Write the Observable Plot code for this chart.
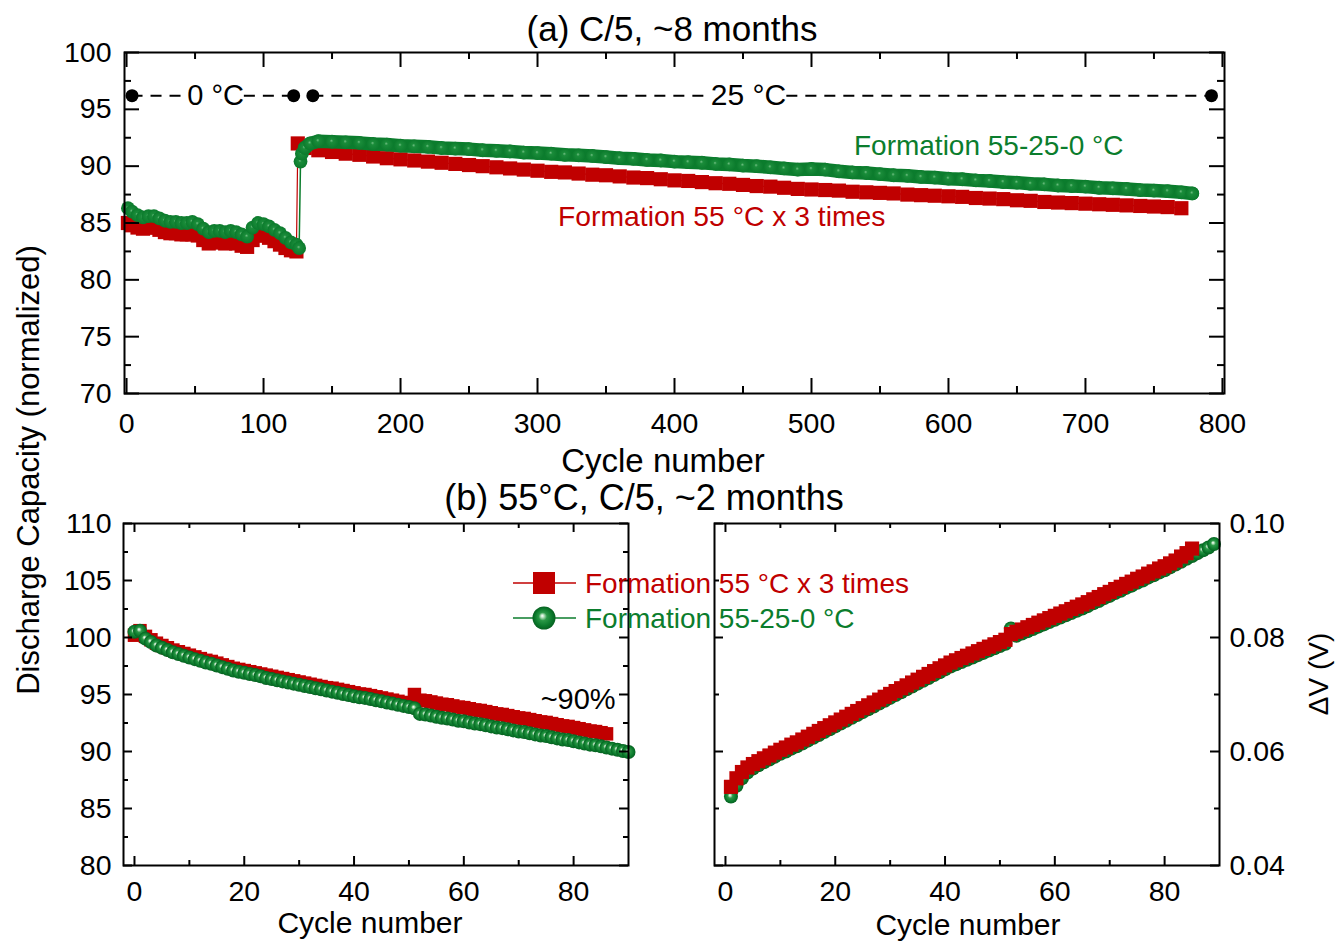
<!DOCTYPE html>
<html><head><meta charset="utf-8">
<script src="https://cdn.jsdelivr.net/npm/d3@7"></script>
<script src="https://cdn.jsdelivr.net/npm/@observablehq/plot@0.6"></script>
<style>
html,body{margin:0;padding:0;background:#fff;}
#chart{position:relative;width:1336px;height:941px;overflow:hidden;background:#fff;}
#chart .layer{position:absolute;left:0;top:0;width:1336px;height:941px;}
</style></head><body>
<div id="chart"></div>
<svg width="0" height="0" style="position:absolute">
  <defs>
    <radialGradient id="gball" cx="0.5" cy="0.5" r="0.5" fx="0.42" fy="0.4">
      <stop offset="0" stop-color="#ffffff"/>
      <stop offset="0.12" stop-color="#c4e8ca"/>
      <stop offset="0.36" stop-color="#2a9846"/>
      <stop offset="0.75" stop-color="#0b7a2c"/>
      <stop offset="1" stop-color="#066020"/>
    </radialGradient>
    <radialGradient id="gsoft" cx="0.5" cy="0.5" r="0.5" fx="0.45" fy="0.42">
      <stop offset="0" stop-color="#6fbf82"/>
      <stop offset="0.25" stop-color="#1a8c3a"/>
      <stop offset="1" stop-color="#0b7a2c"/>
    </radialGradient>
  </defs>
</svg>
<script>
// ---------------- DATA ----------------
// (a) C/5, ~8 months — 0 °C segment
const topRedCyc0 = [1,4,8,12,16,20,24,28,32,36,40,44,48,52,56,60,64,68,72,76,80,84,88,92,96,100,104,108,112,116,120,124];
const topRed0    = [85.0,84.8,84.6,84.5,84.6,84.6,84.4,84.2,84.1,84.1,84.0,84.0,84.0,83.9,83.5,83.2,83.3,83.3,83.2,83.3,83.2,83.0,82.9,83.5,83.9,83.9,83.7,83.4,83.1,82.8,82.6,82.5];
const topGreenCyc0 = [1,4,8,12,16,20,24,28,32,36,40,44,48,52,56,60,64,68,72,76,80,84,88,92,96,100,104,108,112,116,120,124,126];
const topGreen0    = [86.3,86.0,85.7,85.5,85.6,85.6,85.4,85.2,85.1,85.1,85.0,85.0,85.1,84.9,84.5,84.2,84.3,84.3,84.2,84.3,84.2,84.0,83.8,84.6,85.0,84.9,84.7,84.4,84.1,83.7,83.3,83.1,82.8];
// 25 °C segment
const topRedCyc25 = [125,130,140,150,160,170,180,190,200,210,220,230,240,250,260,270,280,290,300,310,320,330,340,350,360,370,380,390,400,410,420,430,440,450,460,470,480,490,500,510,520,530,540,550,560,570,580,590,600,610,620,630,640,650,660,670,680,690,700,710,720,730,740,750,760,770];
const topRed25    = [92.0,91.6,91.4,91.25,91.1,91.0,90.85,90.7,90.6,90.5,90.4,90.3,90.2,90.1,90.0,89.9,89.8,89.7,89.6,89.5,89.45,89.35,89.25,89.2,89.1,89.0,88.95,88.85,88.75,88.7,88.6,88.5,88.45,88.35,88.25,88.2,88.1,88.0,87.95,87.9,87.85,87.75,87.7,87.65,87.6,87.5,87.45,87.4,87.35,87.3,87.2,87.15,87.1,87.0,86.95,86.85,86.8,86.75,86.7,86.65,86.6,86.55,86.5,86.45,86.4,86.3];
const topGreenCyc25 = [127,128,130,134,140,150,160,170,180,190,200,210,220,230,240,250,260,270,280,290,300,310,320,330,340,350,360,370,380,390,400,410,420,430,440,450,460,470,480,490,500,510,520,530,540,550,560,570,580,590,600,610,620,630,640,650,660,670,680,690,700,710,720,730,740,750,760,770,778];
const topGreen25    = [90.4,91.1,91.6,92.0,92.2,92.15,92.1,92.05,91.95,91.9,91.8,91.75,91.7,91.6,91.55,91.5,91.4,91.35,91.3,91.2,91.15,91.1,91.0,90.95,90.9,90.8,90.7,90.65,90.55,90.5,90.4,90.35,90.3,90.2,90.15,90.05,90.0,89.9,89.8,89.7,89.75,89.7,89.55,89.45,89.4,89.3,89.2,89.15,89.05,89.0,88.9,88.85,88.75,88.7,88.6,88.55,88.45,88.4,88.3,88.25,88.2,88.1,88.05,88.0,87.9,87.85,87.8,87.7,87.6];
// temperature annotation: black markers (cycle numbers), dashed segments, level on the y axis
const tempMarkers = [4,122,136,792];
const tempSegStart = [4,86,136,482];
const tempSegEnd = [44,122,425,792];
const tempLevel = 96.2;

// (b) 55°C, C/5, ~2 months — capacity (left)
const capRedCyc = [0,1,2,3,4,5,6,7,8,9,10,11,12,13,14,15,16,17,18,19,20,21,22,23,24,25,26,27,28,29,30,31,32,33,34,35,36,37,38,39,40,41,42,43,44,45,46,47,48,49,50,51,52,53,54,55,56,57,58,59,60,61,62,63,64,65,66,67,68,69,70,71,72,73,74,75,76,77,78,79,80,81,82,83,84,85,86];
const capRed = [100.2,100.6,100.1,99.8,99.5,99.3,99.1,98.9,98.75,98.6,98.45,98.3,98.15,98.0,97.9,97.75,97.6,97.45,97.3,97.2,97.1,97.0,96.9,96.8,96.7,96.6,96.5,96.4,96.3,96.2,96.1,96.0,95.9,95.8,95.7,95.6,95.55,95.45,95.35,95.25,95.15,95.05,95.0,94.9,94.8,94.7,94.6,94.5,94.4,94.3,94.2,95.0,94.5,94.45,94.35,94.25,94.15,94.1,94.0,93.9,93.85,93.75,93.65,93.6,93.5,93.4,93.3,93.25,93.15,93.05,92.95,92.9,92.8,92.7,92.6,92.55,92.45,92.35,92.25,92.2,92.1,92.0,91.9,91.8,91.75,91.65,91.55];
const capGreenCyc = [0,1,2,3,4,5,6,7,8,9,10,11,12,13,14,15,16,17,18,19,20,21,22,23,24,25,26,27,28,29,30,31,32,33,34,35,36,37,38,39,40,41,42,43,44,45,46,47,48,49,50,51,52,53,54,55,56,57,58,59,60,61,62,63,64,65,66,67,68,69,70,71,72,73,74,75,76,77,78,79,80,81,82,83,84,85,86,87,88,89,90];
const capGreen = [100.5,100.6,99.9,99.6,99.3,99.1,98.9,98.7,98.55,98.4,98.25,98.1,97.95,97.8,97.7,97.55,97.4,97.25,97.1,97.0,96.9,96.8,96.7,96.6,96.45,96.35,96.25,96.15,96.05,95.95,95.85,95.75,95.65,95.55,95.45,95.35,95.25,95.15,95.05,94.95,94.85,94.75,94.7,94.6,94.5,94.4,94.3,94.2,94.1,94.0,93.9,93.8,93.3,93.25,93.15,93.05,92.95,92.9,92.8,92.7,92.65,92.55,92.45,92.4,92.3,92.2,92.1,92.05,91.95,91.85,91.75,91.7,91.6,91.5,91.4,91.35,91.25,91.15,91.05,91.0,90.9,90.8,90.7,90.6,90.55,90.45,90.35,90.25,90.15,90.05,89.95];

// (b) ΔV (right)
const dvRedCyc = [1,2,3,4,5,6,7,8,9,10,11,12,13,14,15,16,17,18,19,20,21,22,23,24,25,26,27,28,29,30,31,32,33,34,35,36,37,38,39,40,41,42,43,44,45,46,47,48,49,50,51,52,53,54,55,56,57,58,59,60,61,62,63,64,65,66,67,68,69,70,71,72,73,74,75,76,77,78,79,80,81,82,83,84,85];
const dvRed = [0.0538,0.0553,0.0564,0.0572,0.0578,0.0583,0.0588,0.0593,0.0598,0.0603,0.0607,0.0612,0.0616,0.0621,0.0626,0.0631,0.0636,0.0641,0.0646,0.0651,0.0656,0.0661,0.0666,0.0671,0.0676,0.0681,0.0686,0.0691,0.0696,0.0701,0.0706,0.0711,0.0716,0.0721,0.0726,0.0731,0.0736,0.0741,0.0746,0.0751,0.0756,0.0760,0.0764,0.0768,0.0772,0.0776,0.0780,0.0784,0.0788,0.0792,0.0796,0.0806,0.0810,0.0814,0.0818,0.0822,0.0826,0.0830,0.0834,0.0838,0.0842,0.0846,0.0850,0.0854,0.0858,0.0862,0.0867,0.0871,0.0876,0.0880,0.0885,0.0889,0.0894,0.0898,0.0903,0.0907,0.0912,0.0916,0.0921,0.0925,0.0930,0.0935,0.0942,0.0948,0.0956];
const dvGreenCyc = [1,2,3,4,5,6,7,8,9,10,11,12,13,14,15,16,17,18,19,20,21,22,23,24,25,26,27,28,29,30,31,32,33,34,35,36,37,38,39,40,41,42,43,44,45,46,47,48,49,50,51,52,53,54,55,56,57,58,59,60,61,62,63,64,65,66,67,68,69,70,71,72,73,74,75,76,77,78,79,80,81,82,83,84,85,86,87,88,89];
const dvGreen = [0.0521,0.0540,0.0553,0.0563,0.0570,0.0576,0.0581,0.0586,0.0591,0.0596,0.0600,0.0605,0.0609,0.0614,0.0619,0.0624,0.0629,0.0634,0.0639,0.0644,0.0649,0.0654,0.0659,0.0664,0.0669,0.0674,0.0679,0.0684,0.0689,0.0694,0.0699,0.0704,0.0709,0.0714,0.0719,0.0724,0.0729,0.0734,0.0739,0.0744,0.0749,0.0753,0.0757,0.0761,0.0765,0.0769,0.0773,0.0777,0.0781,0.0785,0.0789,0.0816,0.0803,0.0807,0.0811,0.0815,0.0819,0.0823,0.0827,0.0831,0.0835,0.0839,0.0843,0.0847,0.0851,0.0855,0.0860,0.0864,0.0869,0.0873,0.0878,0.0882,0.0887,0.0891,0.0896,0.0900,0.0905,0.0909,0.0914,0.0918,0.0923,0.0928,0.0933,0.0938,0.0943,0.0948,0.0953,0.0958,0.0964];

// tick values
const topXMajor = [0,100,200,300,400,500,600,700,800];
const topXMinor = [50,150,250,350,450,550,650,750];
const topYMajor = [70,75,80,85,90,95,100];
const topYMinor = [72.5,77.5,82.5,87.5,92.5,97.5];
const botXMajor = [0,20,40,60,80];
const botXMinor = [10,30,50,70];
const capYMajor = [80,85,90,95,100,105,110];
const capYMinor = [82.5,87.5,92.5,97.5,102.5,107.5];
const dvYMajor = [0.04,0.06,0.08,0.10];
const dvYMinor = [0.05,0.07,0.09];

const seriesNames = ["Formation 55 °C x 3 times", "Formation 55-25-0 °C"];

// ---------------- DRAWING ----------------
const W = 1336, H = 941;
const FONT = '"Liberation Sans", Arial, Helvetica, sans-serif';
const RED = "#c00000", GREEN = "#0b7d2d";
const zip = (xs, ys) => xs.slice(0, Math.min(xs.length, ys.length)).map((x, i) => ({x, y: ys[i]}));

function tickMarks(t, fw, fh, maj, min) {
  const o = {stroke: "black", strokeWidth: 2};
  return [
    Plot.ruleX(t.xMaj, {x: d => d, insetTop: fh - maj, ...o}),
    Plot.ruleX(t.xMaj, {x: d => d, insetBottom: fh - maj, ...o}),
    Plot.ruleX(t.xMin, {x: d => d, insetTop: fh - min, ...o}),
    Plot.ruleX(t.xMin, {x: d => d, insetBottom: fh - min, ...o}),
    Plot.ruleY(t.yMaj, {y: d => d, insetRight: fw - maj, ...o}),
    Plot.ruleY(t.yMaj, {y: d => d, insetLeft: fw - maj, ...o}),
    Plot.ruleY(t.yMin, {y: d => d, insetRight: fw - min, ...o}),
    Plot.ruleY(t.yMin, {y: d => d, insetLeft: fw - min, ...o})
  ];
}
const baseStyle = {background: "transparent", fontFamily: FONT, overflow: "visible"};
const TICKFS = 28.5;

// ---- top panel ----
const tRed = [...zip(topRedCyc0, topRed0), ...zip(topRedCyc25, topRed25)];
const tGreen0 = zip(topGreenCyc0, topGreen0);
const tGreen25 = zip(topGreenCyc25, topGreen25);
const tGreen = [...tGreen0, ...tGreen25];
const tempSegs = tempSegStart.map((s, i) => ({x1: s, x2: tempSegEnd[i]}));

const topPlot = Plot.plot({
  width: W, height: H,
  marginLeft: 124, marginRight: W - 1224, marginTop: 52, marginBottom: H - 393,
  x: {domain: [-1.5, 801.5]},
  y: {domain: [70, 100]},
  style: baseStyle,
  marks: [
    Plot.ruleY(tempSegs, {x1: "x1", x2: "x2", y: () => tempLevel, stroke: "black", strokeWidth: 2, strokeDasharray: "11,8"}),
    Plot.text(["0 °C"], {x: () => 65, y: () => tempLevel, text: d => d, fontSize: 29, fill: "black", fontFamily: FONT}),
    Plot.text(["25 °C"], {x: () => 454, y: () => tempLevel, text: d => d, fontSize: 30, fill: "black", fontFamily: FONT}),
    Plot.dot(tempMarkers, {x: d => d, y: () => tempLevel, r: 6.5, fill: "black"}),
    Plot.line(tRed, {x: "x", y: "y", stroke: RED, strokeWidth: 1.2}),
    Plot.dot(tRed, {x: "x", y: "y", symbol: "square", r: 8, fill: RED}),
    Plot.line(tGreen, {x: "x", y: "y", stroke: GREEN, strokeWidth: 1.5}),
    Plot.line(tGreen25.filter(d => d.x >= 130), {x: "x", y: "y", stroke: GREEN, strokeWidth: 13.5, strokeLinecap: "round"}),
    Plot.dot(tGreen, {x: "x", y: "y", r: 6.9, fill: "url(#gsoft)"}),
    Plot.text([seriesNames[1]], {x: () => 531, y: () => 91.8, text: d => d, textAnchor: "start", fontSize: 28, fill: GREEN, fontFamily: FONT}),
    Plot.text([seriesNames[0]], {x: () => 315, y: () => 85.55, text: d => d, textAnchor: "start", fontSize: 28.3, fill: RED, fontFamily: FONT}),
    ...tickMarks({xMaj: topXMajor, xMin: topXMinor, yMaj: topYMajor, yMin: topYMinor}, 1100, 341, 15, 7),
    Plot.frame({stroke: "black", strokeWidth: 2}),
    Plot.axisX(topXMajor, {anchor: "bottom", tickSize: 0, tickPadding: 19, fontSize: TICKFS, label: null, tickFormat: d => String(d)}),
    Plot.axisY(topYMajor, {anchor: "left", tickSize: 0, tickPadding: 13, fontSize: TICKFS, label: null, tickFormat: d => String(d)})
  ]
});

// ---- bottom-left (capacity) ----
const cRed = zip(capRedCyc, capRed), cGreen = zip(capGreenCyc, capGreen);
const capPlot = Plot.plot({
  width: W, height: H,
  marginLeft: 123, marginRight: W - 628, marginTop: 523, marginBottom: H - 865,
  x: {domain: [-2, 90]},
  y: {domain: [80, 110]},
  style: baseStyle,
  marks: [
    Plot.line(cRed, {x: "x", y: "y", stroke: RED, strokeWidth: 1}),
    Plot.dot(cRed, {x: "x", y: "y", symbol: "square", r: 7.6, fill: RED}),
    Plot.line(cGreen, {x: "x", y: "y", stroke: GREEN, strokeWidth: 1}),
    Plot.dot(cGreen, {x: "x", y: "y", r: 7, fill: "url(#gball)"}),
    Plot.text(["~90%"], {x: () => 74, y: () => 94.5, text: d => d, textAnchor: "start", fontSize: 29, fill: "black", fontFamily: FONT}),
    ...tickMarks({xMaj: botXMajor, xMin: botXMinor, yMaj: capYMajor, yMin: capYMinor}, 505, 342, 9, 5),
    Plot.frame({stroke: "black", strokeWidth: 2}),
    Plot.axisX(botXMajor, {anchor: "bottom", tickSize: 0, tickPadding: 15, fontSize: TICKFS, label: null, tickFormat: d => String(d)}),
    Plot.axisY(capYMajor, {anchor: "left", tickSize: 0, tickPadding: 12, fontSize: TICKFS, label: null, tickFormat: d => String(d)})
  ]
});

// ---- bottom-right (ΔV) ----
const vRed = zip(dvRedCyc, dvRed), vGreen = zip(dvGreenCyc, dvGreen);
const dvPlot = Plot.plot({
  width: W, height: H,
  marginLeft: 714, marginRight: W - 1219, marginTop: 523, marginBottom: H - 865,
  x: {domain: [-2, 90]},
  y: {domain: [0.04, 0.10]},
  style: baseStyle,
  marks: [
    Plot.line(vGreen, {x: "x", y: "y", stroke: GREEN, strokeWidth: 1}),
    Plot.dot(vGreen, {x: "x", y: "y", r: 7, fill: "url(#gball)"}),
    Plot.line(vRed, {x: "x", y: "y", stroke: RED, strokeWidth: 1}),
    Plot.dot(vRed, {x: "x", y: "y", symbol: "square", r: 8, fill: RED}),
    ...tickMarks({xMaj: botXMajor, xMin: botXMinor, yMaj: dvYMajor, yMin: dvYMinor}, 505, 342, 9, 5),
    Plot.frame({stroke: "black", strokeWidth: 2}),
    Plot.axisX(botXMajor, {anchor: "bottom", tickSize: 0, tickPadding: 15, fontSize: TICKFS, label: null, tickFormat: d => String(d)}),
    Plot.axisY(dvYMajor, {anchor: "right", tickSize: 0, tickPadding: 10, fontSize: TICKFS, label: null, tickFormat: d3.format(".2f")})
  ]
});

const chart = document.getElementById("chart");
for (const p of [topPlot, capPlot, dvPlot]) {
  const d = document.createElement("div");
  d.className = "layer";
  d.appendChild(p);
  chart.appendChild(d);
}

// ---- overlay: titles, axis titles, legend ----
const ov = d3.create("svg").attr("width", W).attr("height", H).attr("class", "layer")
  .style("font-family", FONT).style("overflow", "visible");
const txt = (s, x, y, size, opts = {}) => {
  const t = ov.append("text").attr("x", x).attr("y", y).attr("font-size", size)
    .attr("text-anchor", opts.anchor || "middle").attr("dominant-baseline", "central")
    .attr("fill", opts.fill || "black").text(s);
  if (opts.rotate) t.attr("transform", `rotate(${opts.rotate},${x},${y})`);
  return t;
};
txt("(a) C/5, ~8 months", 672, 28, 35);
txt("Cycle number", 663, 460, 33);
txt("(b) 55°C, C/5, ~2 months", 644, 497, 36);
txt("Cycle number", 370, 922, 30);
txt("Cycle number", 968, 924, 30);
txt("Discharge Capacity (normalized)", 28, 470, 31, {rotate: -90});
txt("ΔV (V)", 1318, 674, 28, {rotate: -90});

// legend
ov.append("line").attr("x1", 513).attr("x2", 576).attr("y1", 583).attr("y2", 583).attr("stroke", RED).attr("stroke-width", 1.5);
ov.append("rect").attr("x", 533).attr("y", 572).attr("width", 22).attr("height", 22).attr("fill", RED);
ov.append("line").attr("x1", 513).attr("x2", 576).attr("y1", 618).attr("y2", 618).attr("stroke", GREEN).attr("stroke-width", 1.5);
ov.append("circle").attr("cx", 544).attr("cy", 618).attr("r", 11.5).attr("fill", "url(#gball)");
txt(seriesNames[0], 585, 583, 28, {anchor: "start", fill: RED});
txt(seriesNames[1], 585, 618, 28, {anchor: "start", fill: GREEN});
chart.appendChild(ov.node());
</script>
</body></html>
